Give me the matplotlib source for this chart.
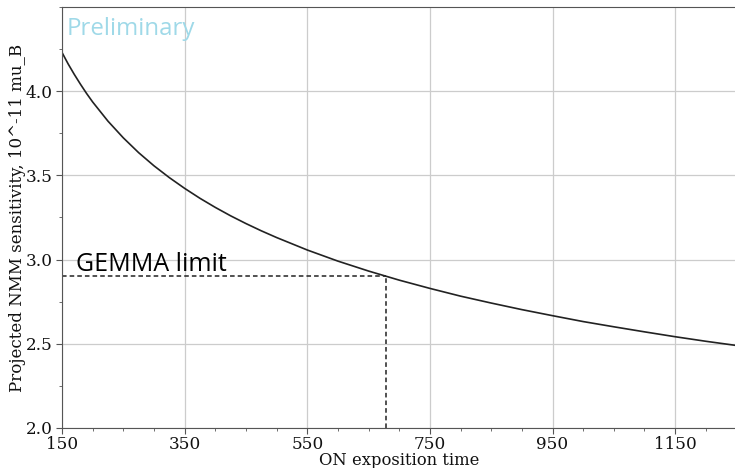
import matplotlib
matplotlib.use("Agg")
import matplotlib.pyplot as plt
from matplotlib.ticker import MultipleLocator

# Data
exposure_time = [150, 160, 170, 180, 190, 200, 225, 250, 275, 300, 325, 350, 375,
                 400, 425, 450, 475, 500, 550, 600, 650, 700, 750, 800, 850, 900,
                 950, 1000, 1050, 1100, 1150, 1200, 1250]
sensitivity = [4.23, 4.162, 4.100, 4.042, 3.987, 3.936, 3.822, 3.723, 3.635,
               3.557, 3.487, 3.423, 3.364, 3.310, 3.260, 3.214, 3.171, 3.131,
               3.057, 2.991, 2.932, 2.878, 2.829, 2.783, 2.742, 2.703, 2.667,
               2.632, 2.601, 2.571, 2.542, 2.515, 2.490]
gemma_limit = 2.9
gemma_time = 679
x_ticks = [150, 350, 550, 750, 950, 1150]
y_ticks = [2.0, 2.5, 3.0, 3.5, 4.0]

fig = plt.figure(figsize=(7.35, 4.68), dpi=100)
ax = fig.add_axes([62 / 735, 1 - 428 / 468, 1 - 62 / 735 + 0.002, (428 - 7) / 468])

ax.plot(exposure_time, sensitivity, color="#222222", lw=1.2)
ax.plot([150, gemma_time], [gemma_limit, gemma_limit], color="#222222", lw=1.1, ls="--", dashes=(3, 2))
ax.plot([gemma_time, gemma_time], [2.0, gemma_limit], color="#222222", lw=1.1, ls="--", dashes=(3, 2))

ax.set_xlim(150, 1250)
ax.set_ylim(2.0, 4.5)
ax.set_xticks(x_ticks)
ax.set_yticks(y_ticks)
ax.xaxis.set_minor_locator(MultipleLocator(50))
ax.yaxis.set_minor_locator(MultipleLocator(0.25))
ax.grid(True, which="major", color="#cccccc", lw=0.9)
ax.set_axisbelow(True)

for s in ax.spines.values():
    s.set_color("#555555")
ax.spines["right"].set_visible(False)
ax.tick_params(which="both", colors="#555555", labelcolor="#111111", labelsize=12.2)
ax.tick_params(which="major", length=4)
ax.tick_params(axis="x", which="major", pad=2)
ax.tick_params(axis="y", which="major", pad=3)
ax.tick_params(which="minor", length=2)
for lbl in ax.get_xticklabels() + ax.get_yticklabels():
    lbl.set_family("DejaVu Serif")

ax.set_xlabel("ON exposition time", family="DejaVu Serif", fontsize=11.8, labelpad=-1, color="#111111")
ax.set_ylabel("Projected NMM sensitivity, 10^-11 mu_B", family="DejaVu Serif", fontsize=12,
              labelpad=-0.5, color="#111111")

ax.text(173, 2.93, "GEMMA limit", family="Open Sans", fontsize=18, color="black")
ax.text(158, 4.335, "Preliminary", family="Open Sans", fontsize=17.3, color="#9fd9e8")

fig.savefig("out.png", dpi=100)
